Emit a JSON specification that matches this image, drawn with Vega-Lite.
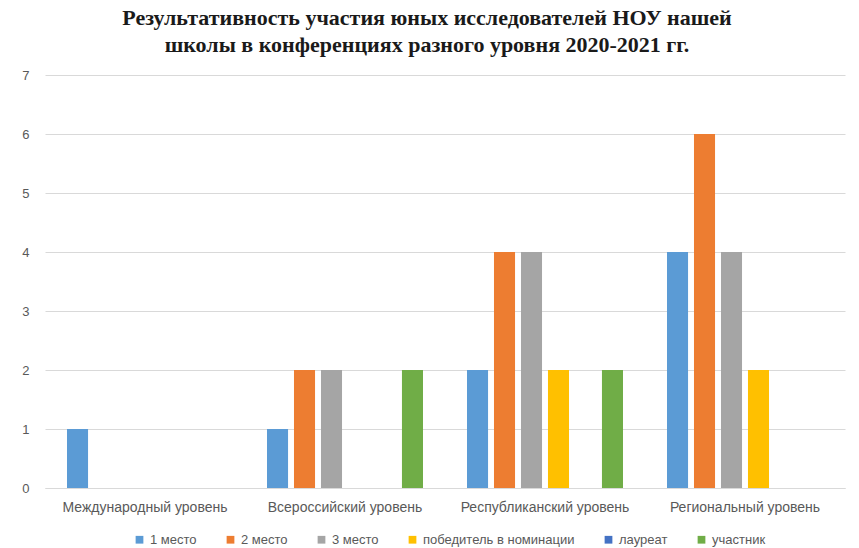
{
  "$schema": "https://vega.github.io/schema/vega-lite/v6.json",
  "width": 800,
  "height": 413,
  "autosize": "none",
  "padding": {"left": 45, "top": 75, "right": 14, "bottom": 60},
  "background": "white",
  "title": {
    "text": ["Результативность  участия юных исследователей НОУ нашей", "школы в конференциях разного уровня 2020-2021 гг."],
    "font": "Liberation Serif",
    "fontSize": 22,
    "fontWeight": "bold",
    "color": "#1a1a1a",
    "anchor": "middle",
    "frame": "group",
    "dx": -18,
    "offset": 12,
    "lineHeight": 27
  },
  "data": {
    "values": [
      {"level": "Международный уровень", "place": "1 место", "count": 1},
      {"level": "Всероссийский уровень", "place": "1 место", "count": 1},
      {"level": "Всероссийский уровень", "place": "2 место", "count": 2},
      {"level": "Всероссийский уровень", "place": "3 место", "count": 2},
      {"level": "Всероссийский уровень", "place": "участник", "count": 2},
      {"level": "Республиканский уровень", "place": "1 место", "count": 2},
      {"level": "Республиканский уровень", "place": "2 место", "count": 4},
      {"level": "Республиканский уровень", "place": "3 место", "count": 4},
      {"level": "Республиканский уровень", "place": "победитель в номинации", "count": 2},
      {"level": "Республиканский уровень", "place": "участник", "count": 2},
      {"level": "Региональный уровень", "place": "1 место", "count": 4},
      {"level": "Региональный уровень", "place": "2 место", "count": 6},
      {"level": "Региональный уровень", "place": "3 место", "count": 4},
      {"level": "Региональный уровень", "place": "победитель в номинации", "count": 2}
    ]
  },
  "mark": {"type": "bar"},
  "encoding": {
    "x": {
      "field": "level",
      "type": "nominal",
      "sort": ["Международный уровень", "Всероссийский уровень", "Республиканский уровень", "Региональный уровень"],
      "scale": {"paddingInner": 0, "paddingOuter": 0},
      "axis": {
        "title": null,
        "labelAngle": 0,
        "ticks": false,
        "domainColor": "#d9d9d9",
        "labelColor": "#595959",
        "labelFont": "Liberation Sans",
        "labelFontSize": 14,
        "labelPadding": 12
      }
    },
    "xOffset": {
      "field": "place",
      "type": "nominal",
      "scale": {
        "domain": ["1 место", "2 место", "3 место", "победитель в номинации", "лауреат", "участник"],
        "paddingInner": 0.22,
        "paddingOuter": 0.815
      }
    },
    "y": {
      "field": "count",
      "type": "quantitative",
      "scale": {"domain": [0, 7], "nice": false},
      "axis": {
        "title": null,
        "values": [0, 1, 2, 3, 4, 5, 6, 7],
        "labelOverlap": false,
        "domain": false,
        "ticks": false,
        "gridColor": "#d9d9d9",
        "labelColor": "#595959",
        "labelFont": "Liberation Sans",
        "labelFontSize": 13,
        "labelPadding": 16
      }
    },
    "color": {
      "field": "place",
      "type": "nominal",
      "scale": {
        "domain": ["1 место", "2 место", "3 место", "победитель в номинации", "лауреат", "участник"],
        "range": ["#5B9BD5", "#ED7D31", "#A5A5A5", "#FFC000", "#4472C4", "#70AD47"]
      },
      "legend": {
        "title": null,
        "orient": "none",
        "legendX": 88,
        "legendY": 458,
        "direction": "horizontal",
        "symbolType": "square",
        "symbolSize": 60,
        "symbolStrokeWidth": 0,
        "labelColor": "#595959",
        "labelFont": "Liberation Sans",
        "labelFontSize": 13,
        "labelOffset": 4,
        "labelLimit": 300,
        "columnPadding": 27
      }
    }
  },
  "config": {"view": {"stroke": null}}
}
